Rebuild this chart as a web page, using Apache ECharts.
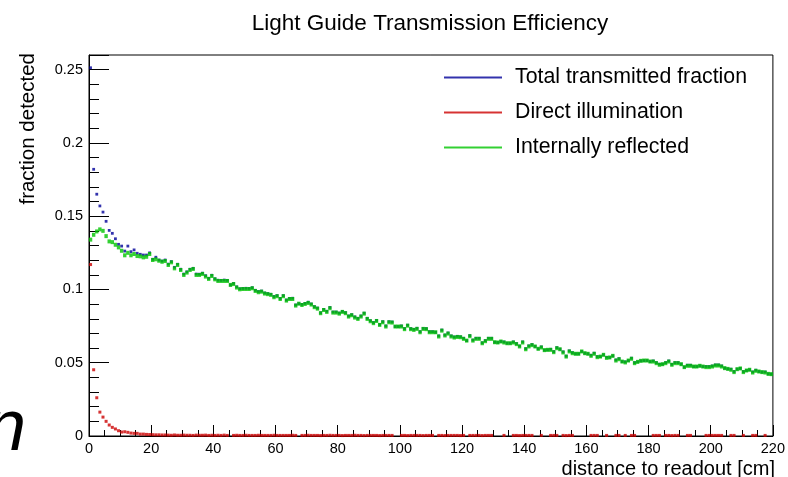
<!DOCTYPE html>
<html>
<head>
<meta charset="utf-8">
<title>Light Guide Transmission Efficiency</title>
<script src="https://cdn.jsdelivr.net/npm/echarts@6/dist/echarts.min.js"></script>
<style>
  html, body { margin: 0; padding: 0; background: #fff; }
  #chart { width: 788px; height: 477px; }
</style>
</head>
<body>
<div id="chart"></div>
<script>
// Histogram bins: 1 cm wide, from 0 to 220 cm (values given per bin, in order)
const binWidth = 1;
const xTicks = [0, 20, 40, 60, 80, 100, 120, 140, 160, 180, 200, 220];
const yTicks = [0, 0.05, 0.1, 0.15, 0.2, 0.25];

const seriesNames = ['Total transmitted fraction', 'Direct illumination', 'Internally reflected'];

// Total transmitted fraction per bin
const totalFraction = [
  0.2513, 0.1820, 0.1650, 0.1570, 0.1528, 0.1465, 0.1403, 0.1383, 0.1346, 0.1308,
  0.1296, 0.1262, 0.1296, 0.1258, 0.1270, 0.1247, 0.1240, 0.1235, 0.1235, 0.1250,
  0.1206, 0.1220, 0.1201, 0.1194, 0.1201, 0.1173, 0.1190, 0.1151, 0.1172, 0.1138,
  0.1105, 0.1120, 0.1138, 0.1144, 0.1105, 0.1104, 0.1111, 0.1094, 0.1076, 0.1097,
  0.1073, 0.1063, 0.1062, 0.1064, 0.1062, 0.1031, 0.1041, 0.1018, 0.1005, 0.1007,
  0.1008, 0.1007, 0.1012, 0.0994, 0.0986, 0.0989, 0.0976, 0.0972, 0.0967, 0.0952,
  0.0958, 0.0939, 0.0958, 0.0928, 0.0939, 0.0940, 0.0894, 0.0903, 0.0898, 0.0905,
  0.0913, 0.0901, 0.0883, 0.0873, 0.0841, 0.0864, 0.0851, 0.0877, 0.0846, 0.0846,
  0.0839, 0.0850, 0.0842, 0.0819, 0.0828, 0.0813, 0.0803, 0.0819, 0.0838, 0.0803,
  0.0787, 0.0774, 0.0789, 0.0761, 0.0780, 0.0751, 0.0780, 0.0778, 0.0747, 0.0747,
  0.0751, 0.0733, 0.0756, 0.0733, 0.0728, 0.0735, 0.0712, 0.0734, 0.0733, 0.0712,
  0.0712, 0.0708, 0.0683, 0.0723, 0.0689, 0.0703, 0.0683, 0.0676, 0.0680, 0.0677,
  0.0667, 0.0651, 0.0685, 0.0655, 0.0667, 0.0667, 0.0636, 0.0651, 0.0667, 0.0667,
  0.0640, 0.0638, 0.0645, 0.0642, 0.0633, 0.0633, 0.0642, 0.0631, 0.0614, 0.0642,
  0.0596, 0.0615, 0.0624, 0.0611, 0.0595, 0.0608, 0.0586, 0.0588, 0.0592, 0.0576,
  0.0603, 0.0592, 0.0574, 0.0545, 0.0581, 0.0569, 0.0561, 0.0561, 0.0577, 0.0565,
  0.0561, 0.0551, 0.0565, 0.0542, 0.0542, 0.0554, 0.0537, 0.0536, 0.0547, 0.0519,
  0.0528, 0.0508, 0.0506, 0.0515, 0.0531, 0.0501, 0.0506, 0.0513, 0.0515, 0.0515,
  0.0508, 0.0512, 0.0501, 0.0490, 0.0490, 0.0501, 0.0512, 0.0489, 0.0501, 0.0501,
  0.0490, 0.0470, 0.0483, 0.0483, 0.0474, 0.0474, 0.0479, 0.0474, 0.0474, 0.0474,
  0.0478, 0.0485, 0.0485, 0.0478, 0.0463, 0.0458, 0.0456, 0.0440, 0.0456, 0.0461,
  0.0440, 0.0447, 0.0452, 0.0437, 0.0449, 0.0440, 0.0436, 0.0437, 0.0424, 0.0422
];

// Direct illumination per bin (null = empty bin)
const directFraction = [
  0.117, 0.0452, 0.0261, 0.0163, 0.0129, 0.0100, 0.0075, 0.0059, 0.0048, 0.0036,
  0.0027, 0.0029, 0.0025, 0.0020, 0.0018, 0.0018, 0.0013, 0.0013, 0.0011, 0.0010,
  0.0009, 0.0008, 0.0008, 0.0007, 0.0007, 0.0006, 0.0005, 0.0007, 0.0005, 0.0005,
  0.0006, 0.0005, 0.0005, 0.0004, 0.0006, 0.0005, 0.0005, 0.0006, 0.0004, 0.0005,
  0.0004, 0.0005, 0.0004, 0.0006, 0.0004, null, 0.0004, 0.0005, 0.0004, 0.0004,
  0.0005, 0.0004, 0.0004, 0.0004, 0.0005, 0.0004, 0.0004, 0.0004, 0.0004, 0.0005,
  0.0004, 0.0004, 0.0004, 0.0004, 0.0004, 0.0005, 0.0004, null, 0.0004, 0.0004,
  0.0005, 0.0004, 0.0004, 0.0004, 0.0003, 0.0004, 0.0004, 0.0005, 0.0004, 0.0004,
  0.0004, 0.0003, 0.0004, 0.0004, 0.0004, 0.0005, 0.0004, 0.0004, 0.0003, 0.0004,
  0.0004, 0.0004, 0.0004, 0.0003, 0.0004, 0.0004, 0.0004, 0.0004, null, null,
  0.0004, 0.0004, 0.0003, 0.0004, 0.0004, 0.0004, 0.0004, 0.0003, 0.0004, 0.0004,
  0.0004, null, 0.0004, 0.0004, 0.0003, 0.0004, 0.0004, 0.0004, 0.0004, 0.0003,
  0.0004, null, 0.0004, 0.0004, 0.0004, 0.0004, 0.0003, 0.0004, 0.0004, 0.0004,
  null, null, null, 0.0004, null, null, 0.0004, 0.0004, 0.0003, 0.0004,
  0.0004, 0.0004, 0.0004, null, null, 0.0004, null, null, 0.0004, 0.0004,
  0.0004, null, 0.0004, 0.0003, 0.0004, 0.0004, null, null, null, null,
  null, 0.0004, 0.0004, 0.0004, null, null, 0.0004, null, null, 0.0004,
  0.0004, null, 0.0004, null, 0.0004, 0.0004, null, null, null, null,
  null, 0.0004, 0.0004, 0.0004, null, 0.0004, 0.0004, 0.0003, 0.0004, 0.0004,
  null, null, 0.0004, 0.0004, null, null, null, null, 0.0004, 0.0004,
  0.0004, 0.0004, 0.0004, 0.0004, null, null, 0.0004, 0.0004, null, null,
  0.0004, null, null, 0.0004, 0.0004, null, null, 0.0004, null, null
];

// Internally reflected fraction per bin
const reflectedFraction = [
  0.1340, 0.1373, 0.1396, 0.1410, 0.1400, 0.1364, 0.1328, 0.1323, 0.1305, 0.1287,
  0.1264, 0.1233, 0.1250, 0.1233, 0.1242, 0.1228, 0.1226, 0.1219, 0.1223, 0.1242,
  0.1201, 0.1206, 0.1196, 0.1189, 0.1194, 0.1167, 0.1185, 0.1144, 0.1167, 0.1133,
  0.1099, 0.1115, 0.1133, 0.1140, 0.1099, 0.1099, 0.1106, 0.1088, 0.1072, 0.1092,
  0.1069, 0.1058, 0.1058, 0.1058, 0.1058, 0.1031, 0.1037, 0.1013, 0.1001, 0.1003,
  0.1003, 0.1003, 0.1008, 0.0990, 0.0981, 0.0985, 0.0972, 0.0968, 0.0963, 0.0947,
  0.0954, 0.0935, 0.0954, 0.0924, 0.0935, 0.0935, 0.0890, 0.0903, 0.0894, 0.0901,
  0.0908, 0.0897, 0.0879, 0.0869, 0.0838, 0.0860, 0.0847, 0.0872, 0.0842, 0.0842,
  0.0835, 0.0847, 0.0838, 0.0815, 0.0824, 0.0808, 0.0799, 0.0815, 0.0835, 0.0799,
  0.0783, 0.0770, 0.0785, 0.0758, 0.0776, 0.0747, 0.0776, 0.0774, 0.0747, 0.0747,
  0.0747, 0.0729, 0.0753, 0.0729, 0.0724, 0.0731, 0.0708, 0.0731, 0.0729, 0.0708,
  0.0708, 0.0708, 0.0679, 0.0719, 0.0686, 0.0699, 0.0679, 0.0672, 0.0676, 0.0674,
  0.0663, 0.0651, 0.0681, 0.0651, 0.0663, 0.0663, 0.0633, 0.0647, 0.0663, 0.0663,
  0.0640, 0.0638, 0.0645, 0.0638, 0.0633, 0.0633, 0.0638, 0.0627, 0.0611, 0.0638,
  0.0592, 0.0611, 0.0620, 0.0611, 0.0595, 0.0604, 0.0586, 0.0588, 0.0588, 0.0572,
  0.0599, 0.0592, 0.0570, 0.0542, 0.0577, 0.0565, 0.0561, 0.0561, 0.0577, 0.0565,
  0.0561, 0.0547, 0.0561, 0.0538, 0.0542, 0.0554, 0.0533, 0.0536, 0.0547, 0.0515,
  0.0524, 0.0508, 0.0502, 0.0515, 0.0527, 0.0497, 0.0506, 0.0513, 0.0515, 0.0515,
  0.0508, 0.0508, 0.0497, 0.0486, 0.0490, 0.0497, 0.0508, 0.0486, 0.0497, 0.0497,
  0.0490, 0.0470, 0.0479, 0.0479, 0.0474, 0.0474, 0.0479, 0.0474, 0.0470, 0.0470,
  0.0474, 0.0481, 0.0481, 0.0474, 0.0463, 0.0458, 0.0452, 0.0436, 0.0456, 0.0461,
  0.0436, 0.0447, 0.0452, 0.0433, 0.0445, 0.0440, 0.0436, 0.0433, 0.0424, 0.0422
];

const FONT = "'Liberation Sans', Arial, Helvetica, sans-serif";
const COLORS = ['#000099', '#cc0000', '#00c400'];

// Convert per-bin contents into [binCentre, value] points, skipping empty bins
function toPoints(values) {
  const pts = [];
  values.forEach((v, i) => {
    if (v !== null) pts.push([(i + 0.5) * binWidth, v]);
  });
  return pts;
}

const yMax = 0.26;
const chart = echarts.init(document.getElementById('chart'), null, { renderer: 'canvas' });

chart.setOption({
  animation: false,
  backgroundColor: '#ffffff',
  textStyle: { fontFamily: FONT },
  grid: {
    left: 89, right: 13, top: 55, bottom: 41,
    show: true, borderColor: '#000', borderWidth: 1, backgroundColor: 'transparent'
  },
  legend: {
    orient: 'vertical',
    left: 444, top: 67,
    padding: 0,
    itemGap: 14,
    itemWidth: 58, itemHeight: 2,
    icon: 'rect',
    selectedMode: false,
    data: seriesNames,
    textStyle: { fontFamily: FONT, fontSize: 21.3, lineHeight: 21, color: '#000', padding: [0, 0, 0, 8] }
  },
  xAxis: {
    type: 'value',
    min: xTicks[0], max: xTicks[xTicks.length - 1], interval: xTicks[1] - xTicks[0],
    axisLine: { show: true, onZero: false, lineStyle: { color: '#000', width: 1 } },
    axisTick: { show: true, inside: true, length: 11, lineStyle: { color: '#000' } },
    minorTick: { show: true, splitNumber: 4, length: 6, lineStyle: { color: '#000' } },
    splitLine: { show: false },
    minorSplitLine: { show: false },
    axisLabel: { color: '#000', fontSize: 14.5, fontFamily: FONT, margin: 5 }
  },
  yAxis: [
    {
      type: 'value', position: 'left',
      min: yTicks[0], max: yMax, interval: yTicks[1] - yTicks[0],
      axisLine: { show: true, onZero: false, lineStyle: { color: '#000', width: 1 } },
      axisTick: { show: true, inside: true, length: 20, lineStyle: { color: '#000' } },
      splitLine: { show: false },
      axisLabel: {
        color: '#000', fontSize: 14.5, fontFamily: FONT, margin: 6,
        formatter: v => (yTicks.some(t => Math.abs(t - v) < 1e-9) ? String(v) : '')
      }
    },
    {
      // finer division ticks (0.01 steps)
      type: 'value', position: 'left',
      min: yTicks[0], max: yMax, interval: 0.01,
      axisLine: { show: false, onZero: false },
      axisTick: { show: true, inside: true, length: 10, lineStyle: { color: '#000' } },
      splitLine: { show: false },
      axisLabel: { show: false }
    }
  ],
  series: [
    {
      name: seriesNames[0], type: 'scatter', silent: true,
      symbol: 'rect', symbolSize: [2.8, 2.8],
      itemStyle: { color: COLORS[0] },
      data: toPoints(totalFraction)
    },
    {
      name: seriesNames[1], type: 'scatter', silent: true,
      symbol: 'rect', symbolSize: [3, 3],
      itemStyle: { color: COLORS[1] },
      data: toPoints(directFraction)
    },
    {
      name: seriesNames[2], type: 'scatter', silent: true,
      symbol: 'rect', symbolSize: [3.4, 4],
      itemStyle: { color: COLORS[2] },
      data: toPoints(reflectedFraction)
    }
  ],
  graphic: [
    {
      type: 'text', x: 430, y: 24, silent: true,
      style: { text: 'Light Guide Transmission Efficiency', fill: '#000', font: '22.5px ' + FONT, align: 'center', verticalAlign: 'middle' }
    },
    {
      type: 'text', x: 28, y: 53, rotation: Math.PI / 2, silent: true,
      style: { text: 'fraction detected', fill: '#000', font: '20.5px ' + FONT, align: 'right', verticalAlign: 'middle' }
    },
    {
      type: 'text', x: 775, y: 469, silent: true,
      style: { text: 'distance to readout [cm]', fill: '#000', font: '20px ' + FONT, align: 'right', verticalAlign: 'middle' }
    },
    {
      type: 'text', x: -14, y: 430, silent: true,
      style: { text: 'n', fill: '#000', font: 'italic 72px ' + FONT, align: 'left', verticalAlign: 'middle' }
    }
  ]
});
</script>
</body>
</html>
